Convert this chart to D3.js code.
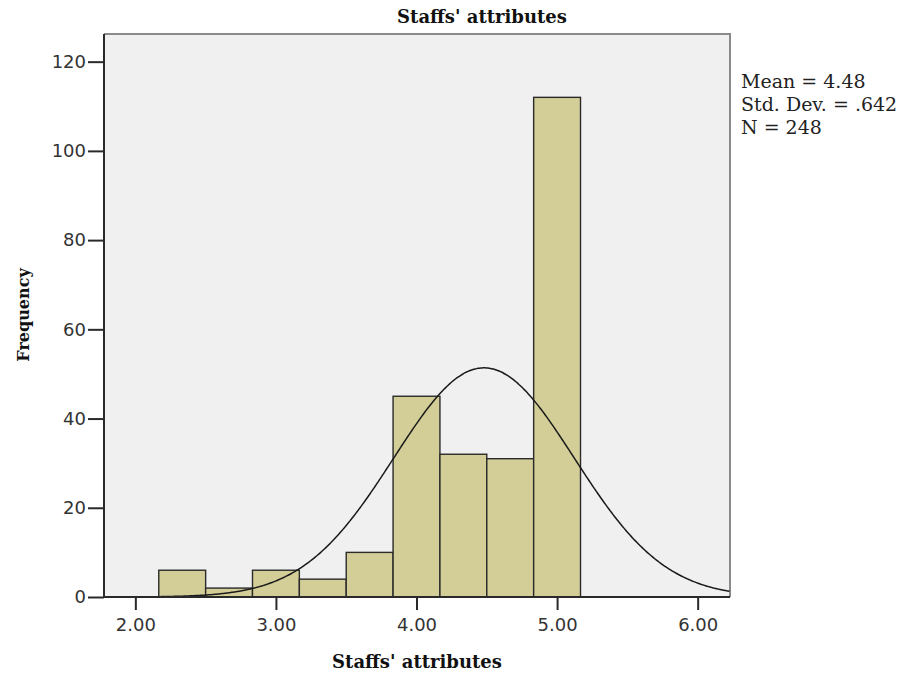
<!DOCTYPE html>
<html>
<head>
<meta charset="utf-8">
<script src="https://cdn.jsdelivr.net/npm/d3@7"></script>
<style>
  html, body { margin: 0; padding: 0; background: #ffffff; }
  svg { display: block; }
</style>
</head>
<body>
<svg id="chart" width="910" height="674"></svg>
<script>
// ---- data ----
const binStarts = [2.1667, 2.5, 2.8333, 3.1667, 3.5, 3.8333, 4.1667, 4.5, 4.8333];
const binWidth = 1 / 3;
const counts = [6, 2, 6, 4, 10, 45, 32, 31, 112];
const xTicks = [2, 3, 4, 5, 6];
const yTicks = [0, 20, 40, 60, 80, 100, 120];
const statMean = 4.48;
const statSD = 0.642;
const statN = 248;
const titleText = "Staffs' attributes";
const xLabel = "Staffs' attributes";
const yLabel = "Frequency";
const statLines = ["Mean = 4.48", "Std. Dev. = .642", "N = 248"];

// ---- layout ----
const svg = d3.select("#chart");
const L = 104, R = 730, T = 34, B = 597;
const x = d3.scaleLinear().domain([1.777, 6.23]).range([L, R]);
const y = d3.scaleLinear().domain([0, 126.2]).range([B, T]);

// plot background
svg.append("rect").attr("x", L).attr("y", T).attr("width", R - L).attr("height", B - T)
  .attr("fill", "#f0f0f0");
// top & right frame (gray)
svg.append("path").attr("d", `M${L},${T}H${R}V${B}`).attr("fill", "none")
  .attr("stroke", "#8a8a8a").attr("stroke-width", 2);

svg.append("defs").append("clipPath").attr("id", "clip")
  .append("rect").attr("x", L).attr("y", T).attr("width", R - L).attr("height", B - T);

// bars
const bins = binStarts.map((s, i) => ({ x0: s, x1: s + binWidth, n: counts[i] }));
svg.append("g").selectAll("rect").data(bins).join("rect")
  .attr("x", d => x(d.x0))
  .attr("y", d => y(d.n))
  .attr("width", d => x(d.x1) - x(d.x0))
  .attr("height", d => y(0) - y(d.n))
  .attr("fill", "#d3ce97")
  .attr("stroke", "#2a2a2a")
  .attr("stroke-width", 1.4);

// normal curve
const pdf = v => Math.exp(-0.5 * ((v - statMean) / statSD) ** 2) / (statSD * Math.sqrt(2 * Math.PI));
const curvePts = d3.range(1.777, 6.2301, 0.01).map(v => [v, statN * binWidth * pdf(v)]);
svg.append("path").datum(curvePts)
  .attr("clip-path", "url(#clip)")
  .attr("fill", "none").attr("stroke", "#1a1a1a").attr("stroke-width", 1.5)
  .attr("d", d3.line().x(d => x(d[0])).y(d => y(d[1])).curve(d3.curveBasis));

// axes
const xAxis = svg.append("g").attr("transform", `translate(0,${B})`)
  .call(d3.axisBottom(x).tickValues(xTicks).tickFormat(d3.format(".2f")).tickSizeInner(13).tickSizeOuter(0).tickPadding(8));
const yAxis = svg.append("g").attr("transform", `translate(${L},0)`)
  .call(d3.axisLeft(y).tickValues(yTicks).tickSizeInner(16).tickSizeOuter(0).tickPadding(2));
[xAxis, yAxis].forEach(g => {
  g.select(".domain").attr("stroke", "#2a2a2a").attr("stroke-width", 2);
  g.selectAll(".tick line").attr("stroke", "#2a2a2a").attr("stroke-width", 2);
  g.selectAll(".tick text").attr("font-family", "DejaVu Sans").attr("font-size", 18)
    .attr("fill", "#333");
});
// x axis line across full width
xAxis.select(".domain").attr("d", `M${L},0H${R}`);
yAxis.select(".domain").attr("d", `M0,${T}V${B}`);

// title and labels
svg.append("text").attr("x", 482).attr("y", 23).attr("text-anchor", "middle")
  .attr("font-family", "DejaVu Serif").attr("font-weight", "bold").attr("font-size", 18)
  .attr("fill", "#111").text(titleText);
svg.append("text").attr("x", 417).attr("y", 668).attr("text-anchor", "middle")
  .attr("font-family", "DejaVu Serif").attr("font-weight", "bold").attr("font-size", 18)
  .attr("fill", "#111").text(xLabel);
svg.append("text").attr("transform", "translate(29,315) rotate(-90)").attr("text-anchor", "middle")
  .attr("font-family", "DejaVu Serif").attr("font-weight", "bold").attr("font-size", 16)
  .attr("fill", "#111").text(yLabel);

// stats
svg.append("g").selectAll("text").data(statLines).join("text")
  .attr("x", 741).attr("y", (d, i) => 88 + i * 23)
  .attr("font-family", "DejaVu Serif").attr("font-size", 19).attr("fill", "#222")
  .text(d => d);
</script>
</body>
</html>
